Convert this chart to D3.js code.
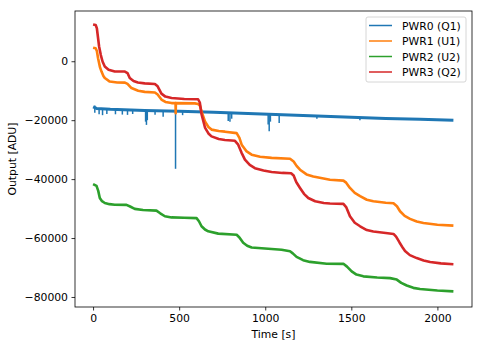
<!DOCTYPE html>
<html>
<head>
<meta charset="utf-8">
<script src="https://cdn.jsdelivr.net/npm/d3@7"></script>
<style>
  body { margin: 0; background: #fff; }
  svg text { font-family: "DejaVu Sans", sans-serif; }
</style>
</head>
<body>
<svg id="chart" width="483" height="347"></svg>
<script>

// values, [time s, output ADU]
var pwr0 = [[0,-15500],[20,-16000],[100,-16300],[300,-16700],[500,-17000],[700,-17300],[900,-17700],
	[1100,-18200],[1300,-18600],[1500,-19000],[1700,-19400],[1900,-19700],[2093,-20000]];

// downward glitches on PWR0: [time, top, bottom]
var pwr0Spikes = [[10,-15000,-17500],[35,-16000,-18000],[55,-16100,-18300],[80,-16200,-17900],[130,-16400,-18000],
	[170,-16500,-18100],[200,-16500,-18200],[230,-16600,-17900],[305,-16700,-20500],[310,-16700,-21600],
	[315,-16700,-20000],[360,-16800,-18200],[407,-16900,-18800],[479,-17000,-36500],[520,-17000,-18300],
	[785,-17500,-20300],[795,-17500,-20500],[805,-17500,-19500],[1017,-18000,-21500],[1023,-18000,-23800],
	[1030,-18000,-20500],[1081,-18100,-21000],[1300,-18600,-19500],[1550,-19100,-20000]];

var pwr1 = [[0,4600],[15,4400],[22,3500],[29,1000],[40,-2000],[49,-3500],[60,-5000],[68,-5700],[97,-6900],
	[140,-7200],[185,-7250],[200,-7700],[223,-9100],[262,-10000],[300,-10400],[359,-10600],[375,-11300],
	[397,-13000],[420,-13800],[456,-14200],[479,-14200],[480,-17600],[481,-14200],[591,-14300],[610,-14500],
	[620,-15000],[630,-17000],[650,-20400],[670,-22300],[688,-23200],[730,-23700],[766,-23900],[834,-24400],
	[850,-26000],[863,-28300],[890,-30500],[921,-31700],[970,-32400],[1037,-32800],[1144,-33100],[1165,-34000],
	[1182,-35500],[1202,-36800],[1240,-38400],[1279,-39100],[1376,-40200],[1454,-40500],[1470,-41200],
	[1492,-43000],[1520,-44700],[1551,-45800],[1590,-47000],[1628,-47500],[1700,-48000],[1745,-48200],
	[1765,-49200],[1783,-50900],[1810,-52500],[1841,-53500],[1880,-54400],[1919,-54900],[2000,-55500],[2093,-55800]];

var pwr2 = [[0,-41700],[20,-42300],[30,-44000],[39,-46400],[52,-47500],[68,-48100],[95,-48500],[126,-48700],
	[194,-48750],[215,-49300],[242,-50100],[290,-50500],[368,-50700],[390,-51600],[417,-52600],[456,-53000],
	[530,-53100],[601,-53250],[615,-54300],[630,-56000],[650,-57100],[669,-57700],[727,-58500],[834,-58900],
	[850,-59800],[872,-61600],[895,-62600],[921,-63200],[1037,-63700],[1095,-63950],[1144,-64500],[1160,-65200],
	[1182,-66400],[1220,-67500],[1260,-68100],[1357,-68700],[1454,-68750],[1475,-69700],[1502,-71300],
	[1530,-72400],[1570,-73000],[1650,-73400],[1725,-73600],[1764,-74100],[1790,-75200],[1822,-76100],
	[1860,-76900],[1899,-77300],[2000,-77800],[2093,-78100]];

var pwr3 = [[0,12500],[15,12300],[22,11200],[35,5000],[45,2100],[55,-100],[68,-1800],[90,-2900],[126,-3500],
	[185,-3500],[200,-4000],[213,-5700],[235,-6700],[260,-7200],[300,-7500],[359,-7700],[375,-8500],
	[397,-11000],[420,-12000],[456,-12500],[530,-12800],[610,-12900],[620,-14000],[630,-18000],[650,-22500],
	[670,-24500],[688,-25500],[730,-26400],[766,-26700],[824,-27000],[843,-28300],[862,-31000],[882,-33400],
	[910,-35200],[940,-36300],[990,-37100],[1037,-37600],[1100,-37900],[1150,-38000],[1165,-38800],
	[1180,-41000],[1202,-43000],[1225,-45000],[1250,-46400],[1290,-47500],[1340,-48100],[1376,-48300],
	[1454,-48400],[1470,-49500],[1492,-52600],[1520,-54800],[1551,-56000],[1590,-57300],[1628,-57800],
	[1700,-58300],[1745,-58600],[1760,-59500],[1780,-61500],[1800,-63400],[1812,-64400],[1840,-65800],
	[1880,-66800],[1920,-67600],[1958,-68100],[2020,-68600],[2093,-68900]];

var seriesNames = ['PWR0 (Q1)', 'PWR1 (U1)', 'PWR2 (U2)', 'PWR3 (Q2)'];
var seriesColors = ['#1f77b4', '#ff7f0e', '#2ca02c', '#d62728'];
var xTicks = [0, 500, 1000, 1500, 2000];
var yTicks = [0, -20000, -40000, -60000, -80000];

var svg = d3.select('#chart');
var axL = 75, axR = 472, axT = 11, axB = 307;
var fontSize = '10.8px';

var x = d3.scaleLinear().domain([-105, 2201]).range([axL, axR]);
var y = d3.scaleLinear().domain([-83400, 17050]).range([axB, axT]);

var fmt = function(d){ return d < 0 ? '\u2212' + Math.abs(d) : '' + d; };

var line = d3.line()
	.x(function(d){ return x(d[0]); })
	.y(function(d){ return y(d[1]); });

var plot = svg.append('g');

// blue baseline plus its glitches
plot.append('path')
	.datum(pwr0)
	.attr('d', line)
	.style('fill', 'none')
	.style('stroke', seriesColors[0])
	.style('stroke-width', 3)
	.style('stroke-linejoin', 'round');

plot.selectAll('line.spike')
	.data(pwr0Spikes)
	.enter()
	.append('line')
	.attr('class', 'spike')
	.attr('x1', function(d){ return x(d[0]); })
	.attr('x2', function(d){ return x(d[0]); })
	.attr('y1', function(d){ return y(d[1]); })
	.attr('y2', function(d){ return y(d[2]); })
	.style('stroke', seriesColors[0])
	.style('stroke-width', 1.5);

[pwr1, pwr2, pwr3].forEach(function(s, i){
	plot.append('path')
		.datum(s)
		.attr('d', line)
		.style('fill', 'none')
		.style('stroke', seriesColors[i + 1])
		.style('stroke-width', 2.6)
		.style('stroke-linejoin', 'round');
});

// axes
var xAxis = d3.axisBottom(x).tickValues(xTicks).tickSize(3.5).tickPadding(3.5).tickFormat(fmt);
var yAxis = d3.axisLeft(y).tickValues(yTicks).tickSize(3.5).tickPadding(3.5).tickFormat(fmt);

var gx = svg.append('g').attr('transform', 'translate(0,' + axB + ')').call(xAxis);
var gy = svg.append('g').attr('transform', 'translate(' + axL + ',0)').call(yAxis);

[gx, gy].forEach(function(g){
	g.select('.domain').remove();
	g.selectAll('text')
		.style('font-size', fontSize)
		.style('font-family', '"DejaVu Sans", sans-serif')
		.style('fill', '#000');
	g.selectAll('line').style('stroke', '#000').style('stroke-width', 0.8);
});

svg.append('rect')
	.attr('x', axL)
	.attr('y', axT)
	.attr('width', axR - axL)
	.attr('height', axB - axT)
	.style('fill', 'none')
	.style('stroke', '#000')
	.style('stroke-width', 0.8);

svg.append('text')
	.attr('x', (axL + axR) / 2)
	.attr('y', 337.5)
	.attr('text-anchor', 'middle')
	.style('font-size', fontSize)
	.text('Time [s]');

svg.append('text')
	.attr('transform', 'translate(15.5,' + ((axT + axB) / 2) + ') rotate(-90)')
	.attr('text-anchor', 'middle')
	.style('font-size', fontSize)
	.text('Output [ADU]');

// legend
var legend = svg.append('g').attr('transform', 'translate(366,17)');
legend.append('rect')
	.attr('width', 100)
	.attr('height', 65)
	.attr('rx', 2)
	.style('fill', '#fff')
	.style('fill-opacity', 0.8)
	.style('stroke', '#ccc')
	.style('stroke-width', 0.8);

var rows = legend.selectAll('g.row')
	.data(seriesNames)
	.enter()
	.append('g')
	.attr('class', 'row')
	.attr('transform', function(d, i){ return 'translate(0,' + (8.5 + i * 15.5) + ')'; });

rows.append('line')
	.attr('x1', 3).attr('x2', 26)
	.style('stroke', function(d, i){ return seriesColors[i]; })
	.style('stroke-width', 1.5);

rows.append('text')
	.attr('x', 36)
	.attr('y', 4)
	.style('font-size', fontSize)
	.text(function(d){ return d; });

</script>
</body>
</html>
